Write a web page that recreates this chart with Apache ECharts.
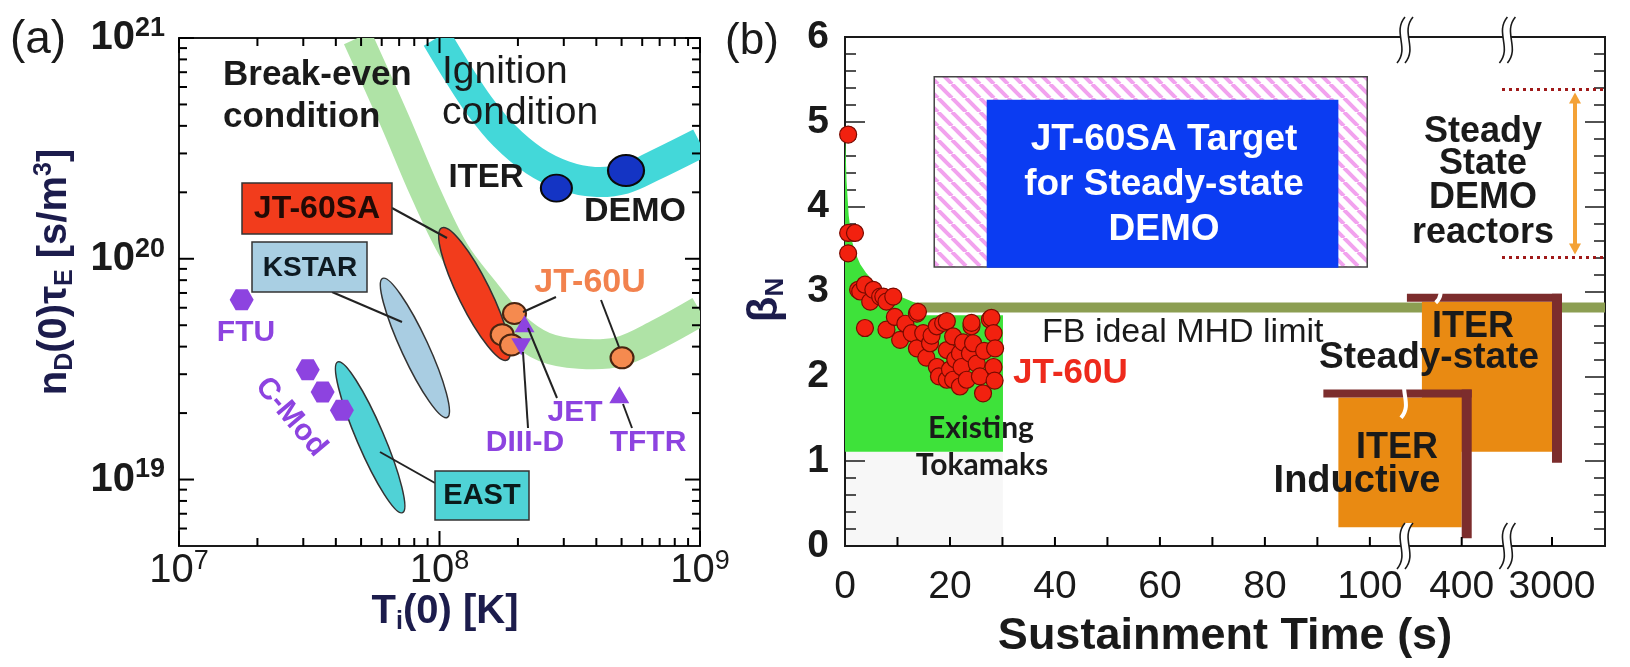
<!DOCTYPE html>
<html>
<head>
<meta charset="utf-8">
<script src="https://cdn.jsdelivr.net/npm/echarts@6/dist/echarts.min.js"></script>
<style>
  html, body { margin: 0; padding: 0; background: #fff; }
  #main { width: 1630px; height: 667px; }
</style>
</head>
<body>
<div id="main"></div>
<script>
// ---------------- panel (a): n_D(0) tau_E vs T_i(0) ----------------
const breakEvenBand = [[4.85e7, 1e21], [6.73e7, 4.23e20], [8.77e7, 2.03e20], [1.14e8, 1.08e20], [1.49e8, 7.1e19],
  [1.94e8, 4.92e19], [2.52e8, 3.99e19], [3.44e8, 3.71e19], [4.89e8, 3.79e19], [6.97e8, 4.58e19], [1e9, 5.8e19]];
const ignitionBand = [[9.75e7, 1e21], [1.19e8, 6.78e20], [1.42e8, 4.95e20], [1.77e8, 3.62e20], [2.31e8, 2.78e20],
  [3.01e8, 2.38e20], [3.93e8, 2.23e20], [5.12e8, 2.30e20], [6.66e8, 2.64e20], [1e9, 3.35e20]];
const iterPoint = [[2.81e8, 2.09e20]];
const demoPoint = [[5.2e8, 2.51e20]];
const jt60uPoints = [[1.94e8, 5.65e19], [1.74e8, 4.53e19], [1.89e8, 4.07e19], [5.02e8, 3.56e19]];
const jetPoint = [[2.12e8, 5.08e19]];
const diiidPoint = [[2.06e8, 3.99e19]];
const tftrPoint = [[4.9e8, 2.42e19]];
const ftuPoint = [[1.74e7, 6.53e19]];
const cmodPoints = [[3.12e7, 3.14e19], [3.56e7, 2.49e19], [4.22e7, 2.06e19]];
// operating regions: [T start, ntau start, T end, ntau end]
const jt60saRegion = [1.02e8, 1.38e20, 1.82e8, 3.48e19];
const kstarRegion = [6.05e7, 8.15e19, 1.07e8, 1.91e19];
const eastRegion = [4.07e7, 3.41e19, 7.21e7, 7.08e18];

// ---------------- panel (b): beta_N vs sustainment time ----------------
const jt60uShots = [[0.6, 4.85], [0.6, 3.69], [1.9, 3.69], [0.6, 3.45],
  [2.5, 3.02], [2.9, 3.0], [3.8, 3.08], [4.8, 2.88], [5.4, 3.02], [6.7, 2.94], [7.3, 2.94], [7.9, 2.88], [9.2, 2.94],
  [3.8, 2.57], [7.9, 2.55], [9.5, 2.70], [10.5, 2.43], [11.5, 2.62], [12.7, 2.51], [13.7, 2.74], [13.9, 2.76],
  [13.7, 2.33], [14.9, 2.51], [15.5, 2.22], [16.2, 2.39], [16.5, 2.48], [17.5, 2.59], [17.5, 2.11], [17.9, 2.0],
  [18.7, 2.63], [19.4, 2.65], [19.4, 2.31], [19.4, 1.96], [20.0, 2.08], [20.6, 2.47], [20.6, 1.96], [21.0, 2.2],
  [21.9, 2.27], [21.9, 1.88], [22.2, 2.11], [22.5, 2.4], [23.2, 1.96], [23.8, 2.27], [24.1, 2.59], [24.1, 2.63],
  [24.4, 2.39], [25.1, 2.15], [25.7, 2.0], [26.3, 1.80], [26.5, 2.3], [27.6, 2.67], [27.9, 2.69], [28.3, 2.51],
  [28.6, 2.33], [28.3, 2.11], [28.5, 1.95]];
// upper edge of the "existing tokamaks" region [time, beta_N]; lower edge is existingFloor
const existingEdge = [[0, 4.9], [0.3, 4.3], [0.7, 3.9], [1.3, 3.6], [2, 3.45], [2.9, 3.32], [4, 3.22], [5.4, 3.12],
  [7, 3.03], [9, 2.97], [11, 2.93], [14.3, 2.84], [15, 2.72], [30.1, 2.72]];
const existingFloor = 1.11;
const mhdLimit = 2.81;
// boxes: [t start, t end, beta low, beta high]
const targetHatchBox = [17, 99.5, 3.29, 5.53];
const targetBox = [27, 94, 3.28, 5.26];
const iterInductiveBox = [94, 400, 0.22, 1.75];
const iterSteadyBox = [270, 3000, 1.11, 2.88];
const demoBetaRange = [3.40, 5.38];
const timeTickSeconds = [0, 20, 40, 60, 80, 100, 400, 3000];
const timeTickLabels = ['0', '20', '40', '60', '80', '100', '400', '3000'];
const timeMinorSeconds = [10, 20, 30, 40, 50, 60, 70, 80, 90, 100, 400, 3000];

// broken time axis: linear to 100 s, then compressed segments to 400 s and 3000 s
function timeToAxis(t) {
  if (t <= 100) return t;
  if (t <= 400) return 100 + (t - 100) * 17.5 / 300;
  return 117.5 + (t - 400) * 17.2 / 2600;
}
const axisBreaks = [106.7, 126.2];          // positions of the axis break marks
const boxBreaks = [[106.7, 1.77, 44], [113.3, 3.08, 36]];

const NAVY = '#1c1c4c';
const INK = '#1a1a1a';
const FONT = 'Liberation Sans';
const PURPLE = '#8d43e0';

// hatch pattern for the JT-60SA target frame
const hatch = document.createElement('canvas');
hatch.width = 14; hatch.height = 14;
(function () {
  const g = hatch.getContext('2d');
  g.fillStyle = '#fff'; g.fillRect(0, 0, 14, 14);
  g.strokeStyle = '#f2a2ee'; g.lineWidth = 4;
  for (const k of [-14, 0, 14]) { g.beginPath(); g.moveTo(k, 0); g.lineTo(k + 14, 14); g.stroke(); }
})();

// log-axis tick marks for panel (a): [value, length]
const xTicksA = [], yTicksA = [];
for (const d of [7, 8, 9]) {
  xTicksA.push([Math.pow(10, d), 15]);
  if (d < 9) for (let k = 2; k <= 9; k++) xTicksA.push([k * Math.pow(10, d), 8]);
}
for (const d of [18, 19, 20, 21]) {
  if (d > 18) yTicksA.push([Math.pow(10, d), 15]);
  if (d < 21) for (let k = 2; k <= 9; k++) if (k * Math.pow(10, d) > 5e18) yTicksA.push([k * Math.pow(10, d), 8]);
}

// ---------------- axes ----------------
function powLabel(v) {
  const e = Math.log10(v);
  if (Math.abs(e - Math.round(e)) > 1e-6) return '';
  return '{b|10}{s|' + Math.round(e) + '}';
}

const xAxes = [
  { type: 'log', gridIndex: 0, position: 'bottom', min: 1e7, max: 1e9,
    axisLine: { lineStyle: { color: INK, width: 2 } }, axisTick: { show: false }, splitLine: { show: false },
    axisLabel: { formatter: powLabel, margin: 2,
      rich: { b: { fontSize: 40, fontFamily: FONT, color: INK, lineHeight: 46 },
        s: { fontSize: 27, fontFamily: FONT, color: INK, lineHeight: 24, verticalAlign: 'top' } } } },
  { type: 'value', gridIndex: 1, position: 'bottom', min: 0, max: 144.8,
    axisLine: { onZero: false, lineStyle: { color: INK, width: 2 } }, splitLine: { show: false }, axisTick: { show: false },
    axisLabel: { customValues: timeTickSeconds.map(timeToAxis), margin: 22, fontSize: 39, fontFamily: FONT, color: INK,
      formatter: (v) => { const i = timeTickSeconds.findIndex(s => Math.abs(timeToAxis(s) - v) < 0.01); return i < 0 ? '' : timeTickLabels[i]; } } }
];
const yAxes = [
  { type: 'log', gridIndex: 0, position: 'left', min: 5e18, max: 1e21,
    axisLine: { lineStyle: { color: INK, width: 2 } }, axisTick: { show: false }, splitLine: { show: false },
    axisLabel: { formatter: powLabel, margin: 14,
      rich: { b: { fontSize: 40, fontWeight: 'bold', fontFamily: FONT, color: INK, lineHeight: 46 },
        s: { fontSize: 27, fontWeight: 'bold', fontFamily: FONT, color: INK, lineHeight: 24, verticalAlign: 'top' } } } },
  { type: 'value', gridIndex: 1, position: 'left', min: 0, max: 6, interval: 1,
    axisLine: { onZero: false, lineStyle: { color: INK, width: 2 } }, splitLine: { show: false },
    axisTick: { inside: true, length: 20, lineStyle: { color: INK, width: 1.5 } },
    minorTick: { show: true, splitNumber: 5, length: 11, lineStyle: { color: INK, width: 1.5 } },
    axisLabel: { margin: 16, fontSize: 39, fontWeight: 'bold', fontFamily: FONT, color: INK } },
  { type: 'value', gridIndex: 1, position: 'right', min: 0, max: 6, interval: 1,
    axisLine: { onZero: false, lineStyle: { color: INK, width: 2 } }, splitLine: { show: false },
    axisTick: { inside: true, length: 20, lineStyle: { color: INK, width: 1.5 } },
    minorTick: { show: true, splitNumber: 5, length: 11, lineStyle: { color: INK, width: 1.5 } },
    axisLabel: { show: false } }
];

// ---------------- series helpers ----------------
function bandSeries(curve, color) {
  return {
    type: 'custom', xAxisIndex: 0, yAxisIndex: 0, clip: true, silent: true, z: 1,
    data: [curve[0]],
    renderItem: (params, api) => ({
      type: 'polyline',
      shape: { points: curve.map(p => api.coord(p)), smooth: 0.35 },
      style: { stroke: color, lineWidth: 30, fill: null, lineJoin: 'round' }
    })
  };
}
function regionSeries(region, fill, width) {
  return {
    type: 'custom', xAxisIndex: 0, yAxisIndex: 0, silent: true, z: 3,
    data: [region], encode: { x: [0, 2], y: [1, 3] },
    renderItem: (params, api) => {
      const a = api.coord([api.value(0), api.value(1)]);
      const b = api.coord([api.value(2), api.value(3)]);
      const dx = b[0] - a[0], dy = b[1] - a[1];
      return {
        type: 'ellipse', x: (a[0] + b[0]) / 2, y: (a[1] + b[1]) / 2, rotation: -Math.atan2(dy, dx),
        shape: { cx: 0, cy: 0, rx: Math.hypot(dx, dy) / 2, ry: width / 2 },
        style: { fill: fill, stroke: '#333', lineWidth: 1.5 }
      };
    }
  };
}
function pointSeries(data, symbol, size, color, border, rotate) {
  return {
    type: 'scatter', xAxisIndex: 0, yAxisIndex: 0, data: data, symbol: symbol, symbolSize: size,
    symbolRotate: rotate || 0, z: 5, silent: true,
    itemStyle: { color: color, borderColor: border, borderWidth: border ? 2 : 0, opacity: 1 }
  };
}
const HEX = 'path://M-10,0 L-5,-8.66 L5,-8.66 L10,0 L5,8.66 L-5,8.66 Z';

function rightSeries(item, renderItem, z) {
  return { type: 'custom', xAxisIndex: 1, yAxisIndex: 1, silent: true, z: z, data: [item], renderItem: renderItem };
}
function boxRect(api, box) {
  const p0 = api.coord([timeToAxis(box[0]), box[3]]);
  const p1 = api.coord([timeToAxis(box[1]), box[2]]);
  return { x: p0[0], y: p0[1], width: p1[0] - p0[0], height: p1[1] - p0[1] };
}
function iterBox(box) {
  return rightSeries(box, (params, api) => {
    const r = boxRect(api, box);
    return { type: 'group', children: [
      { type: 'rect', shape: r, style: { fill: '#e98a12' } },
      { type: 'rect', shape: { x: r.x - 15, y: r.y - 8, width: r.width + 25, height: 8 }, style: { fill: '#7c2d2d' } },
      { type: 'rect', shape: { x: r.x + r.width, y: r.y - 8, width: 10, height: r.height + 19 }, style: { fill: '#7c2d2d' } }
    ] };
  }, 6);
}
function sCurve(cx, cy, h, w) {
  return { a: [cx + w, cy - h / 2], b: [cx - 2.2 * w, cy - h / 6], c: [cx + 2.2 * w, cy + h / 6], d: [cx - w, cy + h / 2] };
}
const P = (p) => p[0].toFixed(1) + ',' + p[1].toFixed(1);
function breakMark(cx, cy) {
  const L = sCurve(cx - 4, cy, 46, 4), R = sCurve(cx + 4, cy, 46, 4);
  const fillPath = 'M' + P(L.a) + 'C' + P(L.b) + ' ' + P(L.c) + ' ' + P(L.d) + 'L' + P(R.d) + 'C' + P(R.c) + ' ' + P(R.b) + ' ' + P(R.a) + 'Z';
  const line = (s) => 'M' + P(s.a) + 'C' + P(s.b) + ' ' + P(s.c) + ' ' + P(s.d);
  return [
    { type: 'path', shape: { pathData: fillPath }, style: { fill: '#fff', stroke: null } },
    { type: 'path', shape: { pathData: line(L) }, style: { fill: null, stroke: INK, lineWidth: 1.6 } },
    { type: 'path', shape: { pathData: line(R) }, style: { fill: null, stroke: INK, lineWidth: 1.6 } }
  ];
}

const series = [
  // panel (a)
  bandSeries(breakEvenBand, '#afe3a6'),
  bandSeries(ignitionBand, '#43d8d9'),
  regionSeries(kstarRegion, '#a9cde2', 27),
  regionSeries(eastRegion, '#50d2d6', 27),
  regionSeries(jt60saRegion, '#f23c1c', 32),
  pointSeries(ftuPoint, HEX, [24, 21], PURPLE),
  pointSeries(cmodPoints, HEX, [24, 21], PURPLE),
  pointSeries(jt60uPoints, 'circle', [23, 21], '#f58a4f', '#4a2410'),
  pointSeries(jetPoint, 'triangle', [20, 17], PURPLE),
  pointSeries(diiidPoint, 'triangle', [20, 17], PURPLE, null, 180),
  pointSeries(tftrPoint, 'triangle', [20, 17], PURPLE),
  pointSeries(iterPoint, 'circle', [31, 27], '#1434c4', '#0a0a0a'),
  pointSeries(demoPoint, 'circle', [36, 31], '#1434c4', '#0a0a0a'),

  // panel (b)
  rightSeries(existingFloor, (params, api) => {
    const r = boxRect(api, [0, 30.1, 0, existingFloor]);
    return { type: 'rect', shape: r, style: { fill: 'rgba(0,0,0,0.03)' } };
  }, 1),
  rightSeries(mhdLimit, (params, api) => {
    const cs = params.coordSys; const y = api.coord([0, mhdLimit])[1];
    return { type: 'rect', shape: { x: cs.x, y: y - 5, width: cs.width, height: 10 }, style: { fill: '#8c9e52' } };
  }, 2),
  rightSeries(existingEdge[0], (params, api) => {
    const pts = existingEdge.map(p => api.coord([timeToAxis(p[0]), p[1]]));
    pts.push(api.coord([30.1, existingFloor]), api.coord([0, existingFloor]));
    return { type: 'polygon', shape: { points: pts }, style: { fill: '#3ee23a' } };
  }, 3),
  {
    type: 'scatter', xAxisIndex: 1, yAxisIndex: 1, z: 5, silent: true, symbolSize: 17,
    data: jt60uShots.map(p => [timeToAxis(p[0]), p[1]]),
    itemStyle: { color: '#f2210f', borderColor: '#7a0a00', borderWidth: 1.2, opacity: 1 }
  },
  rightSeries(targetHatchBox, (params, api) => ({
    type: 'rect', shape: boxRect(api, targetHatchBox),
    style: { fill: { image: hatch, repeat: 'repeat' }, stroke: '#444', lineWidth: 1.5 }
  }), 4),
  rightSeries(targetBox, (params, api) => ({
    type: 'rect', shape: boxRect(api, targetBox), style: { fill: '#0b3cf2' }
  }), 4),
  iterBox(iterSteadyBox),
  iterBox(iterInductiveBox),
  rightSeries(demoBetaRange, (params, api) => {
    const cs = params.coordSys; const right = cs.x + cs.width;
    const y0 = api.coord([0, demoBetaRange[0]])[1], y1 = api.coord([0, demoBetaRange[1]])[1];
    const arrowX = right - 30;
    return { type: 'group', children: [
      { type: 'line', shape: { x1: right - 103, y1: y0, x2: right, y2: y0 }, style: { stroke: '#a01a1a', lineWidth: 3, lineDash: [3, 4] } },
      { type: 'line', shape: { x1: right - 103, y1: y1, x2: right, y2: y1 }, style: { stroke: '#a01a1a', lineWidth: 3, lineDash: [3, 4] } },
      { type: 'line', shape: { x1: arrowX, y1: y0 - 12, x2: arrowX, y2: y1 + 12 }, style: { stroke: '#f4a236', lineWidth: 4 } },
      { type: 'polygon', shape: { points: [[arrowX - 6, y1 + 14], [arrowX + 6, y1 + 14], [arrowX, y1 + 3]] }, style: { fill: '#f4a236' } },
      { type: 'polygon', shape: { points: [[arrowX - 6, y0 - 14], [arrowX + 6, y0 - 14], [arrowX, y0 - 3]] }, style: { fill: '#f4a236' } }
    ] };
  }, 6),
  rightSeries(boxBreaks[0], (params, api) => ({
    type: 'group', children: boxBreaks.map(b => {
      const c = api.coord([b[0], b[1]]); const s = sCurve(c[0], c[1], b[2], 4);
      return { type: 'path', shape: { pathData: 'M' + P(s.a) + 'C' + P(s.b) + ' ' + P(s.c) + ' ' + P(s.d) }, style: { fill: null, stroke: '#fff', lineWidth: 4 } };
    })
  }), 8),
  rightSeries(axisBreaks[0], (params, api) => {
    const cs = params.coordSys; let kids = [];
    axisBreaks.forEach(b => {
      const x = api.coord([b, 0])[0];
      kids = kids.concat(breakMark(x, cs.y + cs.height), breakMark(x, cs.y + 3));
    });
    return { type: 'group', children: kids };
  }, 9)
];

// ---------------- annotations ----------------
function txt(x, y, text, size, weight, fill, extra) {
  return Object.assign({
    type: 'text', x: x, y: y, z: 100, silent: true,
    style: Object.assign({ text: text, fill: fill || INK, fontSize: size, fontWeight: weight || 'normal', fontFamily: FONT,
      align: 'center', verticalAlign: 'middle' }, (extra && extra.style) || {})
  }, extra && extra.el ? extra.el : {});
}
function box(x, y, w, h, fill) {
  return { type: 'rect', z: 98, silent: true, shape: { x: x, y: y, width: w, height: h }, style: { fill: fill, stroke: '#333', lineWidth: 1.5 } };
}
function conn(x1, y1, x2, y2) {
  return { type: 'line', z: 97, silent: true, shape: { x1: x1, y1: y1, x2: x2, y2: y2 }, style: { stroke: '#222', lineWidth: 2 } };
}
// thin filled rectangle used as a tick mark
function tickRect(x, y, w, h) {
  return { type: 'rect', z: 99, silent: true, shape: { x: Math.min(x, x + w), y: Math.min(y, y + h), width: Math.abs(w), height: Math.abs(h) }, style: { fill: '#000' } };
}
const subRich = (color, size) => ({
  a: { fontSize: size, fontWeight: 'bold', fontFamily: FONT, fill: color, lineHeight: size + 6 },
  s: { fontSize: Math.round(size * 0.62), fontWeight: 'bold', fontFamily: FONT, fill: color, lineHeight: Math.round(size * 0.62), verticalAlign: 'bottom' },
  p: { fontSize: Math.round(size * 0.62), fontWeight: 'bold', fontFamily: FONT, fill: color, lineHeight: Math.round(size * 0.62), verticalAlign: 'top' }
});

const graphics = [
  // panel (a)
  txt(38, 40, '(a)', 46, 'normal'),
  txt(223, 75, 'Break-even', 35, 'bold', INK, { style: { align: 'left' } }),
  txt(223, 117, 'condition', 35, 'bold', INK, { style: { align: 'left' } }),
  txt(442, 72, 'Ignition', 39, 'normal', INK, { style: { align: 'left' } }),
  txt(442, 113, 'condition', 39, 'normal', INK, { style: { align: 'left' } }),
  txt(486, 178, 'ITER', 33, 'bold'),
  txt(635, 212, 'DEMO', 34, 'bold'),
  conn(392, 208, 447, 238), box(242, 183, 150, 51, '#f23c1c'), txt(317, 209, 'JT-60SA', 32, 'bold', '#220a05'),
  conn(332, 292, 402, 322), box(252, 242, 115, 50, '#a9cfe3'), txt(310, 268, 'KSTAR', 28, 'bold', '#0d1a22'),
  conn(435, 483, 380, 452), box(435, 471, 94, 49, '#4fd3d6'), txt(482, 496, 'EAST', 29, 'bold', '#0a1a1a'),
  conn(556, 297, 523, 312), conn(601, 300, 619, 347),
  txt(590, 283, 'JT-60U', 34, 'bold', '#f2824e'),
  conn(557, 398, 528, 328), txt(575, 413, 'JET', 30, 'bold', PURPLE),
  conn(528, 428, 523, 352), txt(525, 443, 'DIII-D', 30, 'bold', PURPLE),
  conn(632, 428, 623, 404), txt(648, 443, 'TFTR', 30, 'bold', PURPLE),
  txt(246, 333, 'FTU', 30, 'bold', PURPLE),
  txt(291, 417, 'C-Mod', 30, 'bold', PURPLE, { el: { rotation: -0.87 } }),
  txt(445, 612, '{a|T}{s|i}{a|(0) [K]}', 40, 'bold', NAVY, { style: { rich: subRich(NAVY, 40) } }),
  txt(55, 272, '{a|n}{s|D}{a|(0)τ}{s|E}{a| [s/m}{p|3}{a|]}', 40, 'bold', NAVY,
    { style: { rich: subRich(NAVY, 40) }, el: { rotation: Math.PI / 2 } }),

  // panel (b)
  txt(752, 42, '(b)', 44, 'normal'),
  txt(765, 300, '{a|β}{s|N}', 42, 'bold', NAVY, { style: { rich: subRich(NAVY, 42) }, el: { rotation: Math.PI / 2 } }),
  txt(1225, 637, 'Sustainment Time (s)', 45, 'bold'),
  txt(1164, 140, 'JT-60SA Target', 37, 'bold', '#fff'),
  txt(1164, 185, 'for Steady-state', 37, 'bold', '#fff'),
  txt(1164, 230, 'DEMO', 37, 'bold', '#fff'),
  txt(1483, 132, 'Steady', 36, 'bold'),
  txt(1483, 164, 'State', 36, 'bold'),
  txt(1483, 198, 'DEMO', 36, 'bold'),
  txt(1483, 233, 'reactors', 36, 'bold'),
  txt(1042, 333, 'FB ideal MHD limit', 34, 'normal', INK, { style: { align: 'left' } }),
  txt(1013, 373, 'JT-60U', 35, 'bold', '#ee2a1c', { style: { align: 'left' } }),
  txt(981, 428, 'Existing', 30, 'bold', INK, { style: { fontFamily: 'Lato' } }),
  txt(982, 465, 'Tokamaks', 30, 'bold', INK, { style: { fontFamily: 'Lato' } }),
  txt(1473, 327, 'ITER', 36, 'bold'),
  txt(1429, 358, 'Steady-state', 37, 'bold'),
  txt(1397, 448, 'ITER', 36, 'bold'),
  txt(1357, 482, 'Inductive', 38, 'bold')
];

const GRID_A = { left: 179, top: 38, width: 521, height: 508 };
const GRID_B = { left: 845, top: 37, width: 760, height: 509 };

// tick marks: same log / linear mapping as the grids' axes
const LOG_YMIN = Math.log10(5e18);
const mapAx = (v) => GRID_A.left + GRID_A.width * (Math.log10(v) - 7) / 2;
const mapAy = (v) => GRID_A.top + GRID_A.height * (21 - Math.log10(v)) / (21 - LOG_YMIN);
const mapBx = (v) => GRID_B.left + GRID_B.width * v / 144.8;
const tickMarks = [];
const aTop = GRID_A.top, aBot = GRID_A.top + GRID_A.height, aLeft = GRID_A.left, aRight = GRID_A.left + GRID_A.width;
xTicksA.forEach(t => { const x = mapAx(t[0]); tickMarks.push(tickRect(x - 1, aBot, 2, -t[1]), tickRect(x - 1, aTop, 2, t[1])); });
yTicksA.forEach(t => { const y = mapAy(t[0]); tickMarks.push(tickRect(aLeft, y - 1, t[1], 2), tickRect(aRight, y - 1, -t[1], 2)); });
const bBot = GRID_B.top + GRID_B.height;
timeMinorSeconds.forEach(s => { const x = mapBx(timeToAxis(s)); tickMarks.push(tickRect(x - 1, bBot, 2, -9)); });

const chart = echarts.init(document.getElementById('main'), null, { renderer: 'canvas' });
chart.setOption({
  backgroundColor: '#fff',
  animation: false,
  textStyle: { fontFamily: FONT },
  grid: [
    Object.assign({ show: true, borderColor: INK, borderWidth: 2, backgroundColor: 'transparent' }, GRID_A),
    Object.assign({ show: true, borderColor: INK, borderWidth: 2, backgroundColor: 'transparent' }, GRID_B)
  ],
  xAxis: xAxes,
  yAxis: yAxes,
  series: series,
  graphic: { elements: tickMarks.concat(graphics) }
});
</script>
</body>
</html>
